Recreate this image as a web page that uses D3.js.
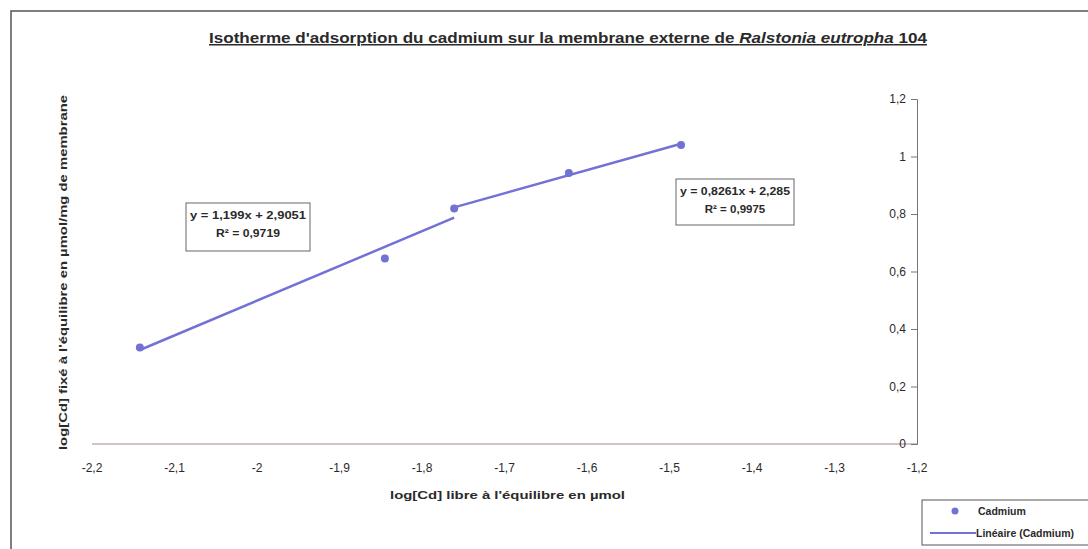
<!DOCTYPE html>
<html>
<head>
<meta charset="utf-8">
<script src="https://cdn.jsdelivr.net/npm/d3@7"></script>
<style>
  body { margin: 0; background: #fff; }
  svg { font-family: "Liberation Sans", Arial, sans-serif; }
</style>
</head>
<body>
<svg id="chart" width="1088" height="549"></svg>
<script>
// data
var logCdLibre = [-2.142, -1.845, -1.761, -1.622, -1.486];
var logCdFixe = [0.336, 0.645, 0.819, 0.943, 1.040];
var fitGroups = [[0, 1, 2], [2, 3, 4]]; // indices used by each linear trend
var xTicks = [-2.2, -2.1, -2, -1.9, -1.8, -1.7, -1.6, -1.5, -1.4, -1.3, -1.2];
var yTicks = [0, 0.2, 0.4, 0.6, 0.8, 1, 1.2];
var equations = [
    ["y = 1,199x + 2,9051", "R² = 0,9719"],
    ["y = 0,8261x + 2,285", "R² = 0,9975"]
];
var legendLabels = ["Cadmium", "Linéaire (Cadmium)"];

var svg = d3.select("#chart");
var blue = "#7272d6";
var ink = "#2a2a2a";
var fmt = function (d) { return String(d).replace(".", ","); };

var x = d3.scaleLinear().domain([-2.2, -1.2]).range([92, 917]);
var y = d3.scaleLinear().domain([0, 1.2]).range([444, 99]);

// frame of the chart
svg.append("path")
    .attr("d", "M11,560 L11,11 L1100,11")
    .attr("fill", "none")
    .attr("stroke", "#555")
    .attr("stroke-width", 1.5);

// title
var title = svg.append("text")
    .attr("x", 209).attr("y", 43)
    .attr("textLength", 718).attr("lengthAdjust", "spacingAndGlyphs")
    .attr("font-size", 15).attr("font-weight", "bold")
    .attr("text-decoration", "underline")
    .attr("fill", ink);
title.append("tspan").text("Isotherme d'adsorption du cadmium sur la membrane externe de ");
title.append("tspan").attr("font-style", "italic").text("Ralstonia eutropha");
title.append("tspan").text("  104");

// x axis at y = 0
svg.append("line")
    .attr("x1", x(-2.2)).attr("x2", x(-1.2))
    .attr("y1", y(0)).attr("y2", y(0))
    .attr("stroke", "#a08888").attr("stroke-width", 1);

svg.append("g").selectAll("text")
    .data(xTicks).enter().append("text")
    .attr("x", function (d) { return x(d); })
    .attr("y", 472)
    .attr("text-anchor", "middle")
    .attr("font-size", 12)
    .attr("fill", ink)
    .text(fmt);

// y axis on the right
var yAxis = d3.axisLeft(y).tickValues(yTicks).tickSize(6).tickPadding(5).tickFormat(fmt);
var gy = svg.append("g").attr("transform", "translate(917,0)").call(yAxis);
gy.select(".domain").attr("stroke", "#777");
gy.selectAll(".tick line").attr("stroke", "#777");
gy.selectAll(".tick text")
    .attr("font-family", "Liberation Sans, Arial, sans-serif")
    .attr("font-size", 12).attr("fill", ink);

// axis titles
svg.append("text")
    .attr("x", 390).attr("y", 499)
    .attr("textLength", 235).attr("lengthAdjust", "spacingAndGlyphs")
    .attr("font-size", 11.5).attr("font-weight", "bold")
    .attr("fill", ink)
    .text("log[Cd] libre à l'équilibre en µmol");

svg.append("text")
    .attr("transform", "translate(67,450) rotate(-90)")
    .attr("textLength", 355).attr("lengthAdjust", "spacingAndGlyphs")
    .attr("font-size", 11.5).attr("font-weight", "bold")
    .attr("fill", ink)
    .text("log[Cd] fixé à l'équilibre en µmol/mg de membrane");

// linear trends, least squares on each group of points
function fit(idx) {
    var xs = idx.map(function (i) { return logCdLibre[i]; });
    var ys = idx.map(function (i) { return logCdFixe[i]; });
    var mx = d3.mean(xs), my = d3.mean(ys);
    var sxy = d3.sum(xs, function (v, k) { return (v - mx) * (ys[k] - my); });
    var sxx = d3.sum(xs, function (v) { return (v - mx) * (v - mx); });
    var a = sxy / sxx, b = my - a * mx;
    var x0 = d3.min(xs), x1 = d3.max(xs);
    return [[x0, a * x0 + b], [x1, a * x1 + b]];
}

var line = d3.line().x(function (d) { return x(d[0]); }).y(function (d) { return y(d[1]); });
svg.append("g").selectAll("path")
    .data(fitGroups.map(fit)).enter().append("path")
    .attr("d", line)
    .attr("fill", "none")
    .attr("stroke", blue)
    .attr("stroke-width", 2.5);

// points
svg.append("g").selectAll("circle")
    .data(logCdLibre).enter().append("circle")
    .attr("cx", function (d) { return x(d); })
    .attr("cy", function (d, i) { return y(logCdFixe[i]); })
    .attr("r", 4)
    .attr("fill", blue);

// equation boxes
var boxes = [{ x: 186, y: 203, w: 124, h: 48, tl: 116 }, { x: 676, y: 179, w: 118, h: 46, tl: 110 }];
boxes.forEach(function (b, i) {
    var g = svg.append("g").attr("transform", "translate(" + b.x + "," + b.y + ")");
    g.append("rect").attr("width", b.w).attr("height", b.h)
        .attr("fill", "#fff").attr("stroke", "#666").attr("stroke-width", 1);
    g.selectAll("text").data(equations[i]).enter().append("text")
        .attr("x", b.w / 2)
        .attr("y", function (d, k) { return 16 + k * 18; })
        .attr("text-anchor", "middle")
        .attr("textLength", function (d, k) { return k === 0 ? b.tl : b.tl * 0.55; })
        .attr("lengthAdjust", "spacingAndGlyphs")
        .attr("font-size", 11).attr("font-weight", "bold")
        .attr("fill", ink)
        .text(function (d) { return d; });
});

// legend
var lg = svg.append("g").attr("transform", "translate(922,500)");
lg.append("rect").attr("width", 180).attr("height", 45)
    .attr("fill", "#fff").attr("stroke", "#555");
lg.append("circle").attr("cx", 33).attr("cy", 11).attr("r", 3.5).attr("fill", blue);
lg.append("line").attr("x1", 8).attr("x2", 54).attr("y1", 33).attr("y2", 33)
    .attr("stroke", blue).attr("stroke-width", 2);
lg.selectAll("text").data(legendLabels).enter().append("text")
    .attr("x", function (d, i) { return i === 0 ? 56 : 54; })
    .attr("y", function (d, i) { return 15 + i * 22; })
    .attr("font-size", 10.5).attr("font-weight", "bold")
    .attr("fill", ink)
    .text(function (d) { return d; });
</script>
</body>
</html>
